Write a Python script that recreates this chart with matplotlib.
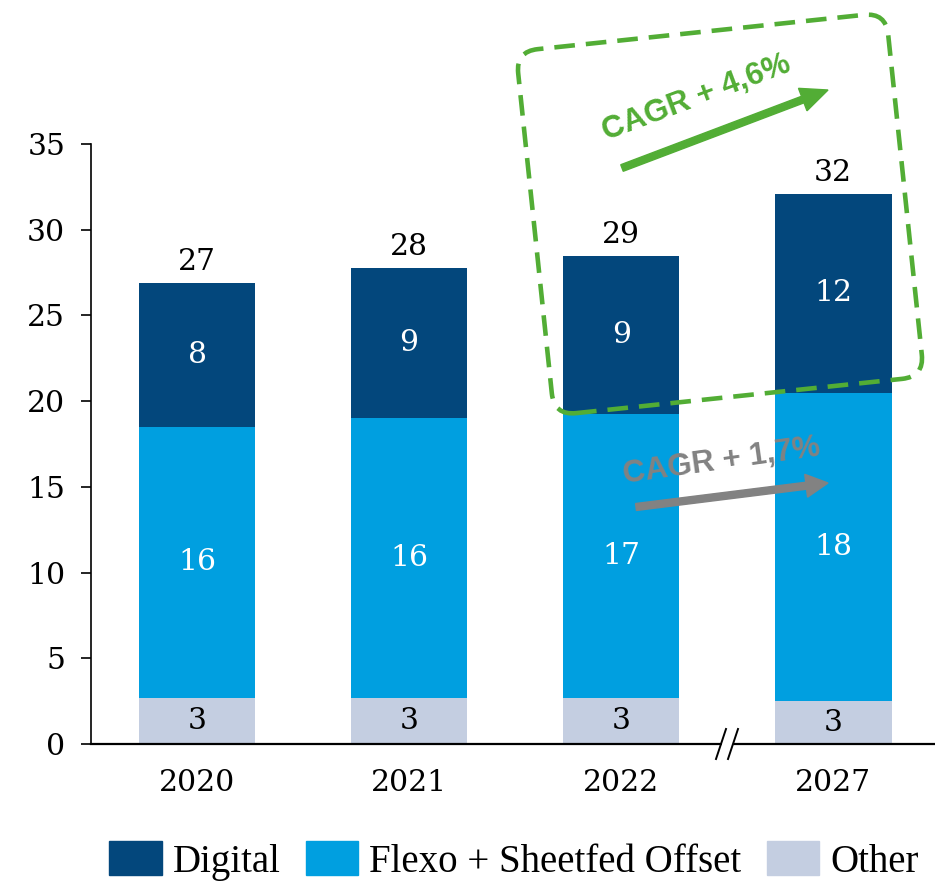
import matplotlib
matplotlib.use("Agg")
import matplotlib.pyplot as plt
from matplotlib.patches import FancyBboxPatch, FancyArrow, Rectangle, Patch
from matplotlib.transforms import Affine2D
from matplotlib.lines import Line2D

# ---- data ----
years = ["2020", "2021", "2022", "2027"]
other = [2.7, 2.7, 2.7, 2.5]
flexo = [15.8, 16.3, 16.55, 18.0]
digital = [8.4, 8.75, 9.2, 11.6]
other_labels = ["3", "3", "3", "3"]
flexo_labels = ["16", "16", "17", "18"]
digital_labels = ["8", "9", "9", "12"]
total_labels = ["27", "28", "29", "32"]
series_names = ["Digital", "Flexo + Sheetfed Offset", "Other"]
yticks = [0, 5, 10, 15, 20, 25, 30, 35]
cagr_digital = "CAGR + 4,6%"
cagr_flexo = "CAGR + 1,7%"

C_DIG = "#03477c"
C_FLX = "#009fe0"
C_OTH = "#c4cee1"
C_GREEN = "#52ad35"
C_GRAY = "#828282"

W, H = 935, 883
fig = plt.figure(figsize=(W / 100, H / 100), dpi=100)
ax = fig.add_axes([91 / W, 139 / H, (W - 91) / W, 600 / H])

serif = ["DejaVu Serif"]
FS = 21.5
x = list(range(len(years)))
bw = 0.55
ax.bar(x, other, bw, color=C_OTH)
ax.bar(x, flexo, bw, bottom=other, color=C_FLX)
b2 = [o + f for o, f in zip(other, flexo)]
ax.bar(x, digital, bw, bottom=b2, color=C_DIG)
tops = [b + d for b, d in zip(b2, digital)]

for i in x:
    ax.text(i, other[i] / 2, other_labels[i], ha="center", va="center",
            fontsize=FS, family=serif, color="black")
    ax.text(i, other[i] + flexo[i] / 2, flexo_labels[i], ha="center", va="center",
            fontsize=FS, family=serif, color="white")
    ax.text(i, b2[i] + digital[i] / 2, digital_labels[i], ha="center", va="center",
            fontsize=FS, family=serif, color="white")
    ax.annotate(total_labels[i], (i, tops[i]), xytext=(0, 5), textcoords="offset points",
                ha="center", va="bottom", fontsize=FS, family=serif, color="black")

ax.set_xlim(-0.5, 3.48)
ax.set_ylim(0, 35)
ax.set_yticks(yticks)
ax.set_yticklabels([str(v) for v in yticks], family=serif, fontsize=FS)
ax.set_xticks(x)
ax.set_xticklabels(years, family=serif, fontsize=FS)
ax.tick_params(axis="y", length=7.5, width=1.2, pad=11)
ax.tick_params(axis="x", length=0, pad=18)
for s in ["top", "right"]:
    ax.spines[s].set_visible(False)
ax.spines["left"].set_linewidth(1.2)
ax.spines["bottom"].set_linewidth(1.6)

# axis break
pix = Affine2D().scale(1 / W, 1 / H) + fig.transFigure
def P(px, py):
    return px, H - py
bx, by = 727, 744
fig.add_artist(Rectangle(P(bx - 5, by + 3), 10, 6, transform=pix, color="white", zorder=5))
for dx in (-6, 6):
    x0, y0 = P(bx + dx - 5, by + 15)
    x1, y1 = P(bx + dx + 5, by - 15)
    fig.add_artist(Line2D([x0, x1], [y0, y1], transform=pix, color="black", lw=1.4, zorder=6))

# green rotated dashed box
cx, cy = 720, 214
bwid, bhei = 372, 366
rot = Affine2D().rotate_deg_around(cx, H - cy, 6) + pix
box = FancyBboxPatch((cx - bwid / 2, H - cy - bhei / 2), bwid, bhei,
                     boxstyle="round,pad=0,rounding_size=22",
                     fill=False, ec=C_GREEN, lw=3.3, ls=(0, (4.5, 2.4)),
                     transform=rot, zorder=7)
fig.add_artist(box)

# green arrow
ax0, ay0 = P(622, 168)
ax1, ay1 = P(828, 90)
fig.add_artist(FancyArrow(ax0, ay0, ax1 - ax0, ay1 - ay0, width=7, head_width=24,
                          head_length=27, length_includes_head=True,
                          color=C_GREEN, transform=pix, zorder=8))
tx, ty = P(697, 98)
fig.text(tx / W, ty / H, cagr_digital, color=C_GREEN, fontsize=22.5, fontweight="bold",
         family=["Liberation Sans"], rotation=20.5, ha="center", va="center",
         rotation_mode="anchor", zorder=8)

# gray arrow
gx0, gy0 = P(636, 507)
gx1, gy1 = P(828, 483)
fig.add_artist(FancyArrow(gx0, gy0, gx1 - gx0, gy1 - gy0, width=7, head_width=23,
                          head_length=22, length_includes_head=True,
                          color=C_GRAY, transform=pix, zorder=8))
tx, ty = P(722, 461)
fig.text(tx / W, ty / H, cagr_flexo, color=C_GRAY, fontsize=22.5, fontweight="bold",
         family=["Liberation Sans"], rotation=8, ha="center", va="center",
         rotation_mode="anchor", zorder=8)

# legend
handles = [Patch(color=C_DIG), Patch(color=C_FLX), Patch(color=C_OTH)]
leg = fig.legend(handles, series_names, loc="center", bbox_to_anchor=(514 / W, 1 - 861 / H),
                 ncol=3, frameon=False, prop={"family": "Liberation Serif", "size": 28},
                 handlelength=1.35, handleheight=0.95, handletextpad=0.28,
                 columnspacing=0.65, borderpad=0, borderaxespad=0)

fig.savefig("out.png", dpi=100)
